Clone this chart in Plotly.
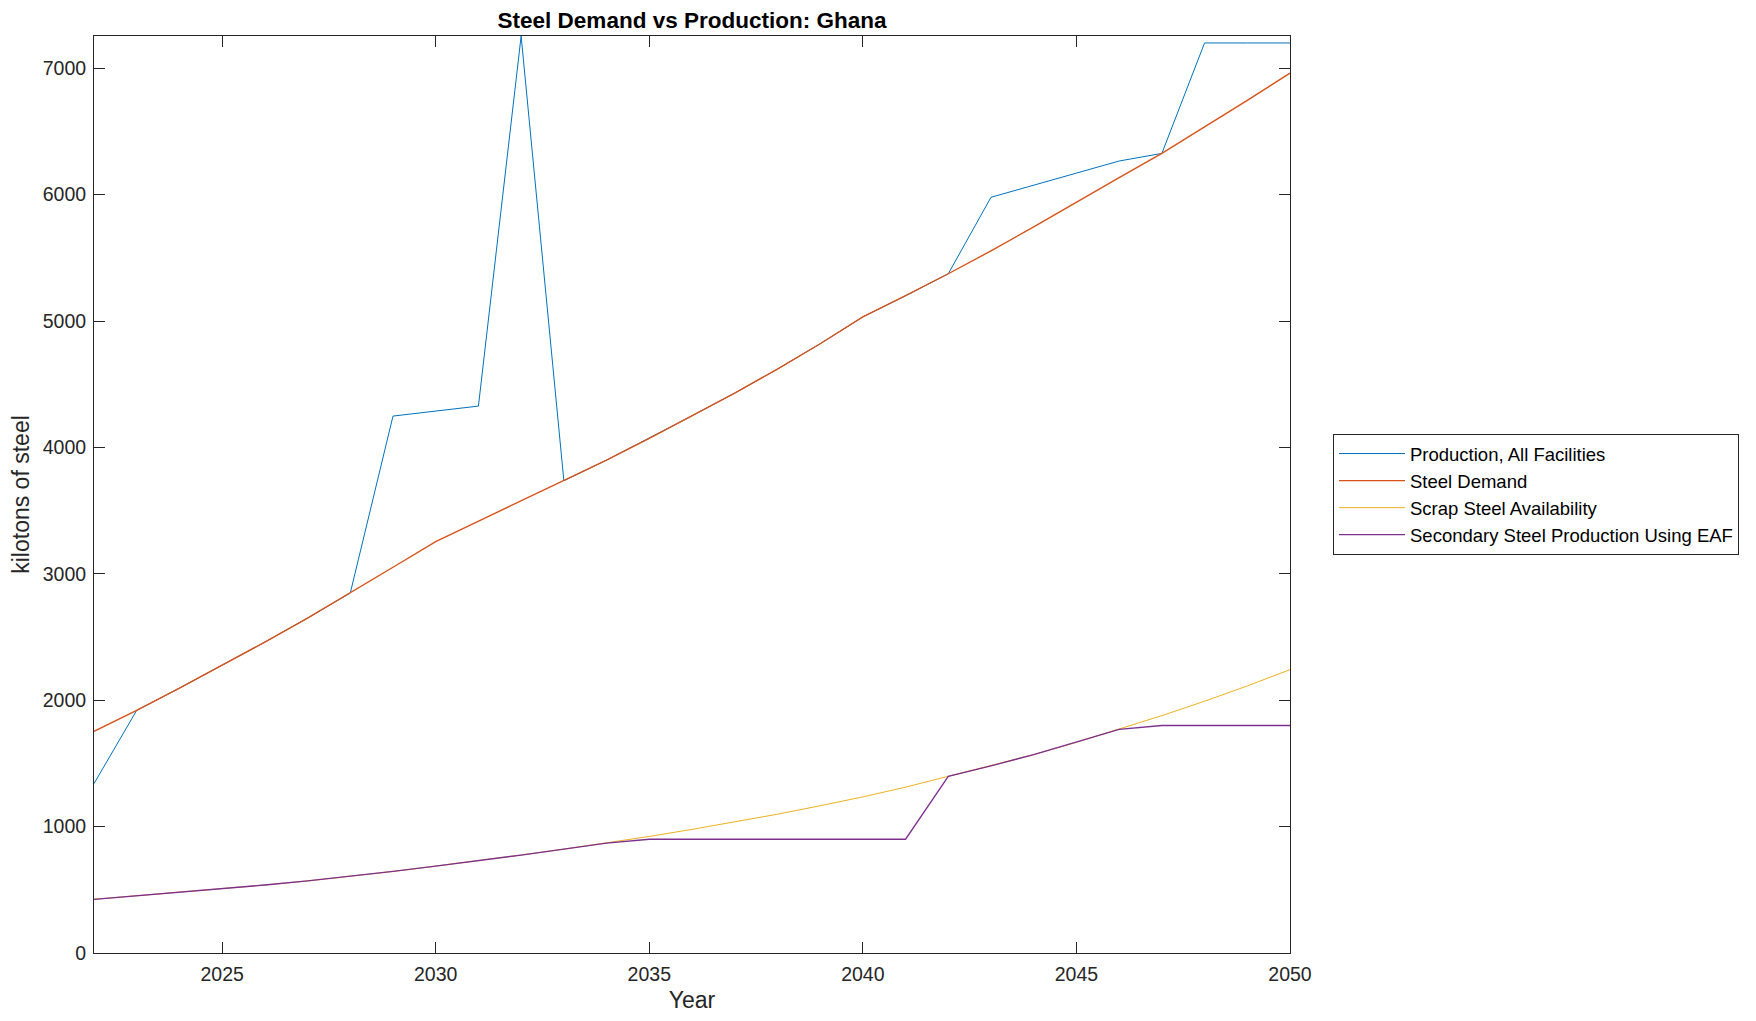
import plotly.graph_objects as go

years = list(range(2022, 2051))

production = [1340, 1920, 2095, 2277, 2460, 2650, 2848, 4248, 4288, 4327, 7255, 3736,
              3900, 4072, 4250, 4430, 4620, 4820, 5033, 5200, 5374, 5979, 6075, 6170,
              6266, 6326, 7200, 7200, 7200]

demand = [1754, 1920, 2095, 2277, 2460, 2650, 2848, 3052, 3255, 3415, 3576, 3736,
          3900, 4072, 4250, 4430, 4620, 4820, 5033, 5200, 5374, 5555, 5745, 5942,
          6135, 6326, 6535, 6745, 6961]

scrap = [425, 452, 480, 508, 538, 570, 605, 645, 688, 730, 775, 822,
         870, 922, 978, 1036, 1098, 1165, 1235, 1312, 1398, 1480, 1570, 1667,
         1770, 1878, 1992, 2113, 2242]

eaf = [425, 452, 480, 508, 538, 570, 605, 645, 688, 730, 775, 822,
       870, 900, 900, 900, 900, 900, 900, 900, 1398, 1480, 1570, 1667,
       1770, 1800, 1800, 1800, 1800]

series = [
    ("Production, All Facilities", production, "#0072BD", 1.0),
    ("Steel Demand", demand, "#D95319", 1.4),
    ("Scrap Steel Availability", scrap, "#EDB120", 1.0),
    ("Secondary Steel Production Using EAF", eaf, "#7E2F8E", 1.3),
]

FONT = "Liberation Sans, Arial, Helvetica, sans-serif"
INK = "#262626"

# page body has an 8px margin; figure sized/offset to keep the plot box in place
W, H = 1740, 1005

fig = go.Figure()
for name, vals, color, lw in series:
    fig.add_trace(go.Scatter(x=years, y=vals, mode="lines", name=name,
                             line=dict(color=color, width=lw)))

axis_common = dict(
    showline=True, linecolor=INK, linewidth=1, mirror="ticks",
    ticks="inside", ticklen=11, tickwidth=1, tickcolor=INK,
    showgrid=False, zeroline=False, automargin=False,
    tickfont=dict(family=FONT, size=19.5, color=INK),
)

fig.update_layout(
    width=W, height=H,
    paper_bgcolor="white", plot_bgcolor="white",
    margin=dict(l=86, r=458, t=28, b=60, autoexpand=False),
    title=dict(text="<b>Steel Demand vs Production: Ghana</b>", x=0.5,
               xref="paper", xanchor="center", y=1 - 12 / H, yanchor="middle",
               font=dict(family=FONT, size=22.5, color="black")),
    xaxis=dict(range=[2022, 2050], tickvals=[2025, 2030, 2035, 2040, 2045, 2050],
               ticklabelstandoff=4,
               title=dict(text="Year", font=dict(family=FONT, size=23, color=INK),
                          standoff=12),
               **axis_common),
    yaxis=dict(range=[0, 7255], tickvals=[0, 1000, 2000, 3000, 4000, 5000, 6000, 7000],
               ticklabelstandoff=3,
               title=dict(text="kilotons of steel", font=dict(family=FONT, size=23, color=INK),
                          standoff=9),
               **axis_common),
    legend=dict(x=(1333 - 94) / 1196, y=0.5, xanchor="left", yanchor="middle",
                bordercolor=INK, borderwidth=1, bgcolor="white",
                font=dict(family=FONT, size=18.5, color="black"),
                tracegroupgap=0, itemwidth=66),
    showlegend=True,
)

fig.write_html("out.html")
